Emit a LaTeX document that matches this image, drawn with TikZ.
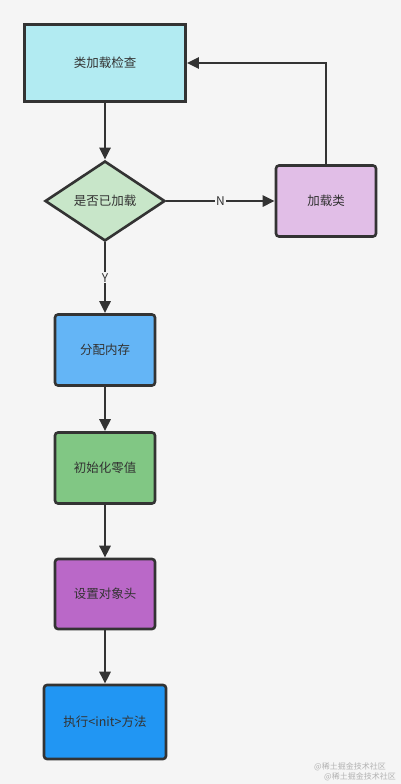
\documentclass[tikz,border=0pt]{standalone}
\usepackage{fontspec}
\setmainfont{Noto Sans CJK SC}
\usetikzlibrary{shapes.geometric, arrows.meta}
\definecolor{bgcol}{HTML}{F5F5F5}
\definecolor{linecol}{HTML}{333333}
\definecolor{checkcol}{HTML}{B2EBF2}
\definecolor{decidecol}{HTML}{C8E6C9}
\definecolor{loadcol}{HTML}{E1BEE7}
\definecolor{alloccol}{HTML}{64B5F6}
\definecolor{zerocol}{HTML}{81C784}
\definecolor{headcol}{HTML}{BA68C8}
\definecolor{initcol}{HTML}{2196F3}
\tikzset{>={Triangle[length=12pt,width=11pt]},
    every node/.style={font=\fontsize{12.5}{15}\selectfont, text=linecol},
    stepbox/.style={draw=linecol, line width=2.6pt, rounded corners=3pt,
        minimum width=100pt, minimum height=71pt},
    decide/.style={draw=linecol, line width=2.6pt, diamond, fill=decidecol,
        minimum width=120pt, minimum height=80pt, inner sep=0pt},
    lab/.style={fill=bgcol, inner sep=1pt, font=\fontsize{12}{14}\selectfont},
    flow/.style={->, draw=linecol, line width=2.6pt},
    wmark/.style={text=gray!60, font=\fontsize{8}{9}\selectfont}}

\begin{document}
\begin{tikzpicture}[x=1pt, y=-1pt]
    \useasboundingbox[fill=bgcol] (0,0) rectangle (401,784);
    \node[stepbox, rounded corners=0pt, fill=checkcol, minimum width=161pt, minimum height=77pt] (check) at (105,63) {类加载检查};
    \node[decide] (isload) at (105,201) {是否已加载};
    \node[stepbox, fill=loadcol] (load) at (326,201) {加载类};
    \node[stepbox, fill=alloccol] (alloc) at (105,350) {分配内存};
    \node[stepbox, fill=zerocol] (zero) at (105,468) {初始化零值};
    \node[stepbox, fill=headcol, minimum height=70pt] (head) at (105,594) {设置对象头};
    \node[stepbox, fill=initcol, minimum width=122pt, minimum height=74pt] (init) at (105,722) {执行<init>方法};
    \node[wmark] (mark1) at (350,767) {@稀土掘金技术社区};
    \node[wmark] (mark2) at (360,777) {@稀土掘金技术社区};

    \draw[flow] (check) -- (isload);
    \draw[flow] (isload) -- node[lab] {N} (load);
    \draw[flow] (load) |- (check);
    \draw[flow] (isload) -- node[lab] {Y} (alloc);
    \draw[flow] (alloc) -- (zero);
    \draw[flow] (zero) -- (head);
    \draw[flow] (head) -- (init);
\end{tikzpicture}
\end{document}
